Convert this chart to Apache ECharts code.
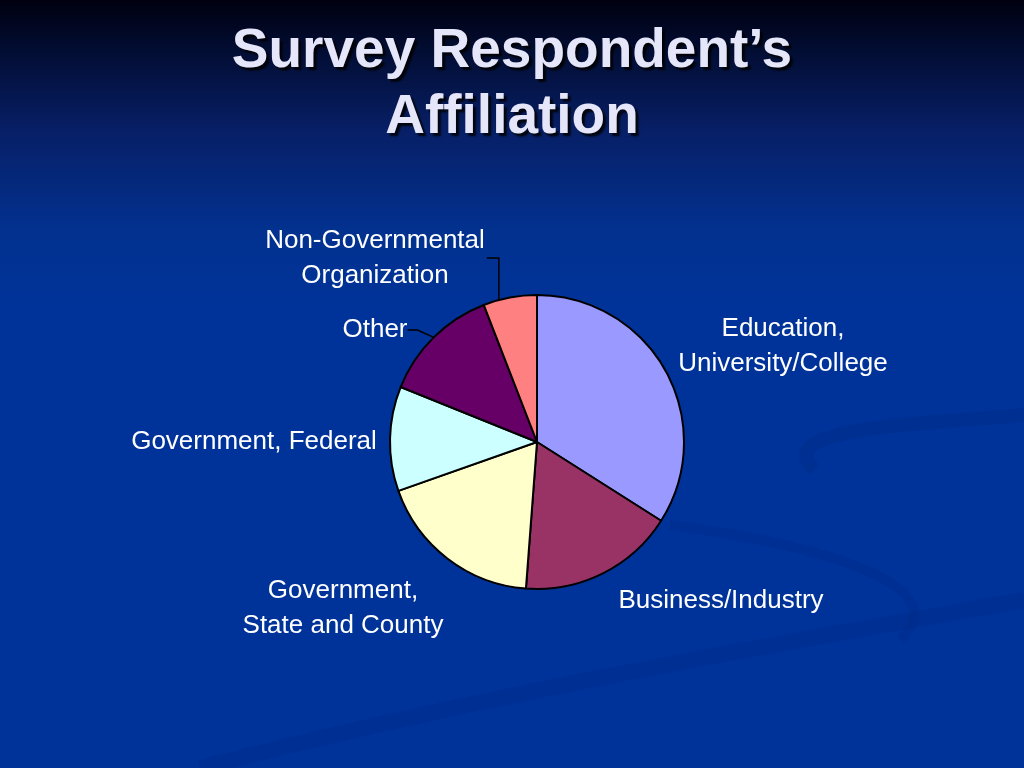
<!DOCTYPE html>
<html>
<head>
<meta charset="utf-8">
<script src="https://cdn.jsdelivr.net/npm/echarts@6/dist/echarts.min.js"></script>
<style>html,body{margin:0;padding:0;background:#003399;}#chart{width:1024px;height:768px;}</style>
</head>
<body>
<div id="chart"></div>
<script>
// ---- data ----
const categories = [
  'Education,\nUniversity/College',
  'Business/Industry',
  'Government,\nState and County',
  'Government, Federal',
  'Other',
  'Non-Governmental\nOrganization'
];
const values = [34, 17.2, 18.4, 11.5, 13, 5.9];
const sliceColors = ['#9999FF', '#993366', '#FFFFCC', '#CCFFFF', '#660066', '#FF8080'];
const showLeader = [false, false, false, false, true, true];
const titleText = 'Survey Respondent\u2019s\nAffiliation';

// label placement (text block centres), layout only
const labelCentres = [[783, 346], [721, 601], [343, 608], [254, 442], [375, 330], [375, 258]];
const pieCenter = [537, 442];
const pieRadius = 147;

const chart = echarts.init(document.getElementById('chart'), null, {renderer: 'canvas'});

const seriesData = categories.map((c, i) => ({
  name: c,
  value: values[i],
  itemStyle: {color: sliceColors[i]},
  labelLine: {show: showLeader[i]}
}));

chart.setOption({
  animation: false,
  graphic: [
    {
      type: 'rect', z: -10, silent: true,
      shape: {x: 0, y: 0, width: 1024, height: 768},
      style: {
        fill: new echarts.graphic.LinearGradient(0, 0, 0, 1, [
          {offset: 0, color: '#00000f'},
          {offset: 0.06, color: '#020c30'},
          {offset: 0.17, color: '#071f66'},
          {offset: 0.3, color: '#02318f'},
          {offset: 0.4, color: '#003399'},
          {offset: 1, color: '#003399'}
        ])
      }
    },
    {
      type: 'bezierCurve', z: -9, silent: true,
      shape: {x1: 815, y1: 470, cpx1: 770, cpy1: 430, cpx2: 900, cpy2: 425, x2: 1024, y2: 415},
      style: {stroke: 'rgba(0,30,110,0.16)', lineWidth: 14, fill: null}
    },
    {
      type: 'bezierCurve', z: -9, silent: true,
      shape: {x1: 200, y1: 768, cpx1: 500, cpy1: 690, cpx2: 800, cpy2: 640, x2: 1024, y2: 600},
      style: {stroke: 'rgba(0,30,110,0.14)', lineWidth: 16, fill: null}
    },
    {
      type: 'bezierCurve', z: -9, silent: true,
      shape: {x1: 670, y1: 525, cpx1: 820, cpy1: 545, cpx2: 960, cpy2: 585, x2: 900, y2: 640},
      style: {stroke: 'rgba(0,30,110,0.14)', lineWidth: 10, fill: null}
    }
  ],
  title: {
    text: titleText,
    left: 'center',
    top: 14,
    textStyle: {
      fontFamily: 'Liberation Sans, Arial, sans-serif',
      fontSize: 55,
      fontWeight: 'bold',
      color: '#E6E6FA',
      lineHeight: 66,
      align: 'center',
      textShadowColor: 'rgba(0,0,0,0.85)',
      textShadowOffsetX: 3,
      textShadowOffsetY: 3,
      textShadowBlur: 2
    }
  },
  series: [{
    type: 'pie',
    center: pieCenter,
    radius: pieRadius,
    startAngle: 90,
    clockwise: true,
    data: seriesData,
    itemStyle: {borderColor: '#000000', borderWidth: 2},
    emphasis: {disabled: true},
    label: {
      show: true,
      position: 'outside',
      color: '#FFFFFF',
      fontFamily: 'Liberation Sans, Arial, sans-serif',
      fontSize: 26,
      lineHeight: 35,
      align: 'center'
    },
    labelLine: {
      show: true,
      length: 8,
      length2: 10,
      lineStyle: {color: '#000000', width: 1.5}
    },
    labelLayout: function (params) {
      const i = params.dataIndex;
      const p = labelCentres[i];
      const out = {x: p[0], y: p[1], align: 'center', verticalAlign: 'middle'};
      if (i === 5) {
        // leader: short horizontal stub from the text end, then straight down to the rim
        const sx = p[0] + params.labelRect.width / 2 + 2;
        const mx = sx + 12;
        const ey = pieCenter[1] - Math.sqrt(pieRadius * pieRadius - (mx - pieCenter[0]) * (mx - pieCenter[0]));
        out.labelLinePoints = [[sx, p[1]], [mx, p[1]], [mx, ey]];
      }
      return out;
    }
  }]
});
</script>
</body>
</html>
